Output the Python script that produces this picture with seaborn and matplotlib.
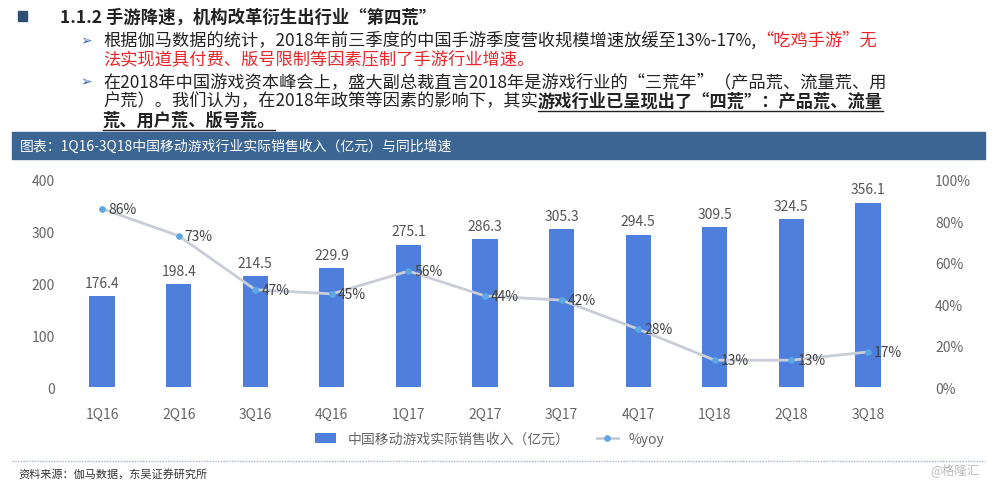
import matplotlib
matplotlib.use("Agg")
import matplotlib.pyplot as plt
import seaborn as sns
import pandas as pd
from matplotlib.patches import Rectangle
from matplotlib.lines import Line2D

plt.rcParams["font.family"] = ["Noto Sans CJK SC", "DejaVu Sans"]

quarters = ["1Q16","2Q16","3Q16","4Q16","1Q17","2Q17","3Q17","4Q17","1Q18","2Q18","3Q18"]
revenue = [176.4,198.4,214.5,229.9,275.1,286.3,305.3,294.5,309.5,324.5,356.1]
yoy = [86,73,47,45,56,44,42,28,13,13,17]

df = pd.DataFrame({"q": quarters, "rev": revenue, "yoy": yoy})

fig = plt.figure(figsize=(10, 4.81), dpi=100)
fig.patch.set_facecolor("white")
ax = fig.add_axes([0.06, 0.193, 0.85, 0.431])
sns.barplot(data=df, x="q", y="rev", color="#4f7fdc", width=0.33, ax=ax, saturation=1,
            label="中国移动游戏实际销售收入（亿元）")
ax.set_ylim(0, 400)
ax.set_yticks([0,100,200,300,400])
ax.set_xlim(-0.55, 10.55)
for i, v in enumerate(revenue):
    ax.text(i, v + 12, f"{v:.1f}", ha="center", va="bottom", fontsize=10, color="#555555")
ax.set_xlabel(""); ax.set_ylabel("")
for s in ax.spines.values():
    s.set_visible(False)
ax.tick_params(length=0, colors="#666666", labelsize=10)
ax.tick_params(axis="x", pad=14)

ax2 = ax.twinx()
sns.lineplot(x=list(range(len(yoy))), y=yoy, ax=ax2, color="#c8cdd6", lw=2,
             marker="o", markersize=4, markerfacecolor="#5aa9e6", markeredgecolor="#5aa9e6",
             label="%yoy")
ax2.set_ylim(0, 100)
ax2.set_yticks([0,20,40,60,80,100])
ax2.set_yticklabels([f"{t}%" for t in [0,20,40,60,80,100]])
for s in ax2.spines.values():
    s.set_visible(False)
ax2.tick_params(length=0, colors="#666666", labelsize=10, pad=18)
for i, v in enumerate(yoy):
    ax2.text(i + 0.08, v, f"{v}%", ha="left", va="center", fontsize=10, color="#444444")
if ax2.get_legend(): ax2.get_legend().remove()
if ax.get_legend(): ax.get_legend().remove()
h1, l1 = ax.get_legend_handles_labels()
h2, l2 = ax2.get_legend_handles_labels()
fig.legend(h1 + h2, l1 + l2, loc="center", bbox_to_anchor=(0.49, 0.085), ncol=2,
           frameon=False, fontsize=10, labelcolor="#666666", handlelength=1.5)

renderer = fig.canvas.get_renderer()
FS = 12.4

def chain(x, y, parts):
    for txt, color, bold, ul in parts:
        t = fig.text(x, y, txt, fontsize=FS, color=color, va="center",
                     fontweight="bold" if bold else "normal")
        bb = t.get_window_extent(renderer)
        w = bb.width / fig.bbox.width
        if ul:
            fig.lines.append(Line2D([x, x + w], [y - 0.022, y - 0.022], transform=fig.transFigure,
                                    color="#222222", lw=1))
        x += w
    return x

# header text
fig.patches.append(Rectangle((0.018, 0.955), 0.009, 0.02, transform=fig.transFigure, color="#2f4f72"))
fig.text(0.06, 0.963, "1.1.2 手游降速，机构改革衍生出行业“第四荒”", fontsize=12.5, fontweight="bold",
         color="#222222", va="center")
fig.text(0.08, 0.915, "➢", fontsize=10, color="#3a6ab0", va="center")
chain(0.103, 0.915, [("根据伽马数据的统计，2018年前三季度的中国手游季度营收规模增速放缓至13%-17%,", "#222222", False, False),
                     ("“吃鸡手游”无", "#e8262a", False, False)])
chain(0.103, 0.876, [("法实现道具付费、版号限制等因素压制了手游行业增速。", "#e8262a", False, False)])
fig.text(0.08, 0.828, "➢", fontsize=10, color="#3a6ab0", va="center")
chain(0.103, 0.828, [("在2018年中国游戏资本峰会上，盛大副总裁直言2018年是游戏行业的“三荒年”（产品荒、流量荒、用", "#222222", False, False)])
chain(0.103, 0.789, [("户荒）。我们认为，在2018年政策等因素的影响下，其实", "#222222", False, False),
                     ("游戏行业已呈现出了“四荒”：产品荒、流量", "#222222", True, True)])
chain(0.103, 0.750, [("荒、用户荒、版号荒。", "#222222", True, True)])

# banner
fig.patches.append(Rectangle((0.012, 0.668), 0.973, 0.056, transform=fig.transFigure, color="#3b6593"))
fig.text(0.02, 0.696, "图表：1Q16-3Q18中国移动游戏行业实际销售收入（亿元）与同比增速", fontsize=10,
         color="white", va="center")

# footer
fig.lines.append(Line2D([0.012, 0.985], [0.04, 0.04], transform=fig.transFigure, color="#9fb3d1",
                        lw=1, ls=(0, (1, 1))))
fig.text(0.018, 0.014, "资料来源：伽马数据，东吴证券研究所", fontsize=8, color="#333333", va="center")
fig.text(0.93, 0.022, "@格隆汇", fontsize=9, color="#bbbbbb", va="center")

fig.savefig("out.png", dpi=100, facecolor="white")
